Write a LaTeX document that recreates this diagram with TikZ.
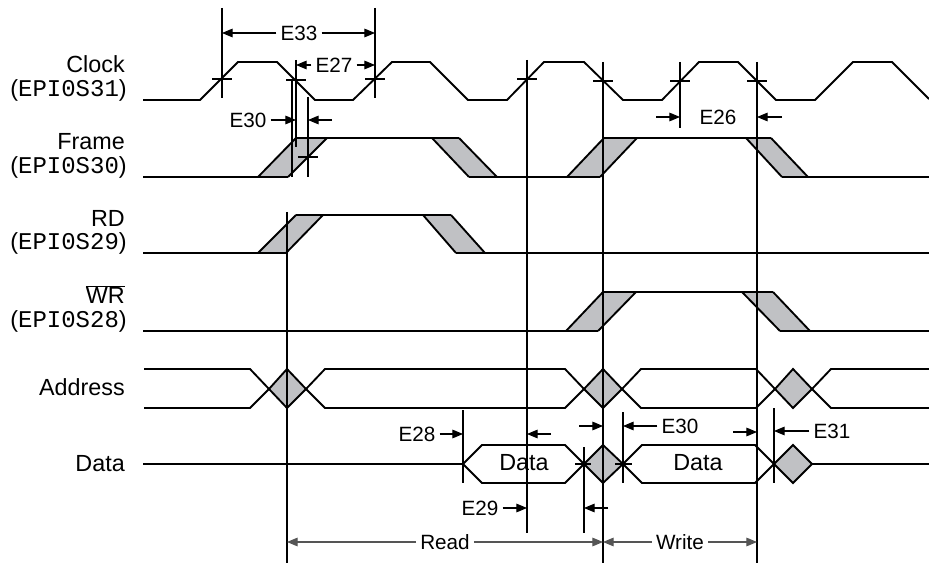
\documentclass[tikz,border=0pt]{standalone}
\usepackage{fontspec}
\setmainfont{Liberation Sans}
\newfontfamily\epimono{Liberation Mono}
\usetikzlibrary{arrows.meta}
\definecolor{shade}{RGB}{192,193,196}
\definecolor{dimline}{RGB}{85,85,85}
\newcommand\epipin[1]{{\epimono\fontsize{18}{20}\selectfont #1}}
\begin{document}
\begin{tikzpicture}[x=0.75pt,y=-0.75pt,
  wave/.style={line width=1.4pt, line join=miter},
  tline/.style={line width=0.8pt},
  dim/.style={line width=0.8pt, -{Triangle[length=8pt,width=6.5pt]}},
  trans/.style={fill=shade, draw=none},
  sig/.style={font=\fontsize{17.5}{19}\selectfont, inner sep=0pt, anchor=base east},
  elbl/.style={font=\fontsize{15.5}{17}\selectfont, inner xsep=3pt, inner ysep=0pt},
  dlbl/.style={font=\fontsize{17.5}{19}\selectfont, inner sep=0pt},
]
\useasboundingbox (0,0) rectangle (929,563);

% ---------- labels ----------
\node[sig] (clk)  at (125,73)  {Clock};
\node[sig] (clkp) at (127,97)  {(\epipin{EPI0S31})};
\node[sig] (frm)  at (125,150) {Frame};
\node[sig] (frmp) at (127,174) {(\epipin{EPI0S30})};
\node[sig] (rd)   at (125,227) {RD};
\node[sig] (rdp)  at (127,250) {(\epipin{EPI0S29})};
\node[sig] (wr)   at (125,304) {$\overline{\hbox{WR}}$};
\node[sig] (wrp)  at (127,328) {(\epipin{EPI0S28})};
\node[sig] (addr) at (125,395) {Address};
\node[sig] (dat)  at (125,471) {Data};

% ---------- shaded transitions ----------
\fill[trans] (258,177)--(296,138)--(327,138)--(288,177)--cycle;
\fill[trans] (432,138)--(459,138)--(497,177)--(469,177)--cycle;
\fill[trans] (567,177)--(604,138)--(637,138)--(600,177)--cycle;
\fill[trans] (746,138)--(771,138)--(808,177)--(782,177)--cycle;
\fill[trans] (258,253)--(296,215)--(323,215)--(286,253)--cycle;
\fill[trans] (423,215)--(451,215)--(485,253)--(456,253)--cycle;
\fill[trans] (566,331)--(603,292)--(636,292)--(598,331)--cycle;
\fill[trans] (742,292)--(773,292)--(810,331)--(780,331)--cycle;

% ---------- Clock ----------
\draw[wave] (143,100)--(200,100)--(238,62)--(277,62)--(315,100)--(353,100)--(392,62)--(430,62)--(468,100)--(507,100)--(544,62)--(584,62)--(623,100)--(662,100)--(699,62)--(738,62)--(776,100)--(815,100)--(853,62)--(892,62)--(929,99);

% ---------- Frame ----------
\draw[wave] (143,177)--(288,177);
\draw[wave] (258,177)--(296,138);
\draw[wave] (288,177)--(327,138);
\draw[wave] (296,138)--(459,138);
\draw[wave] (432,138)--(469,177);
\draw[wave] (459,138)--(497,177);
\draw[wave] (469,177)--(600,177);
\draw[wave] (567,177)--(604,138);
\draw[wave] (600,177)--(637,138);
\draw[wave] (604,138)--(771,138);
\draw[wave] (746,138)--(782,177);
\draw[wave] (771,138)--(808,177);
\draw[wave] (782,177)--(929,177);

% ---------- RD ----------
\draw[wave] (143,253)--(286,253);
\draw[wave] (258,253)--(296,215);
\draw[wave] (286,253)--(323,215);
\draw[wave] (296,215)--(451,215);
\draw[wave] (423,215)--(456,253);
\draw[wave] (451,215)--(485,253);
\draw[wave] (456,253)--(929,253);

% ---------- WR ----------
\draw[wave] (143,331)--(598,331);
\draw[wave] (566,331)--(603,292);
\draw[wave] (598,331)--(636,292);
\draw[wave] (603,292)--(773,292);
\draw[wave] (742,292)--(780,331);
\draw[wave] (773,292)--(810,331);
\draw[wave] (780,331)--(929,331);

% ---------- Address ----------
\filldraw[wave, fill=shade] (269,389)--(287,369)--(306,389)--(287,408)--cycle;
\filldraw[wave, fill=shade] (584,389)--(603,369)--(622,389)--(603,408)--cycle;
\filldraw[wave, fill=shade] (775,389)--(793,369)--(812,389)--(793,408)--cycle;
\draw[wave] (144,369)--(250,369)--(269,389)--(250,408)--(144,408);
\draw[wave] (306,389)--(325,369)--(565,369)--(584,389)--(565,408)--(325,408)--cycle;
\draw[wave] (622,389)--(641,369)--(756,369)--(775,389)--(756,408)--(641,408)--cycle;
\draw[wave] (929,369)--(831,369)--(812,389)--(831,408)--(929,408);

% ---------- Data ----------
\filldraw[wave, fill=shade] (584,464)--(603,445)--(623,464)--(603,483)--cycle;
\filldraw[wave, fill=shade] (774,464)--(793,445)--(812,464)--(793,483)--cycle;
\draw[wave] (143,464)--(463,464);
\draw[wave] (463,464)--(482,445)--(565,445)--(584,464)--(565,483)--(482,483)--cycle;
\draw[wave] (623,464)--(642,445)--(755,445)--(774,464)--(755,483)--(642,483)--cycle;
\draw[wave] (812,464)--(929,464);
\node[dlbl] (d1) at (524,463) {Data};
\node[dlbl] (d2) at (698,463) {Data};

% ---------- timing reference lines ----------
\draw[tline] (222,8)--(222,98);
\draw[tline] (375,8)--(375,98);
\draw[tline] (296,60)--(296,147);
\draw[tline] (292,80)--(292,177);
\draw[tline] (308,97)--(308,177);
\draw[tline] (527,60)--(527,533);
\draw[tline] (603,62)--(603,563);
\draw[tline] (680,62)--(680,128);
\draw[tline] (757,62)--(757,563);
\draw[tline] (287,212)--(287,563);
\draw[tline] (463,410)--(463,483);
\draw[tline] (584,447)--(584,533);
\draw[tline] (623,412)--(623,483);
\draw[tline] (774,408)--(774,483);
% crossing ticks
\draw[tline] (212,79)--(232,79);
\draw[tline] (286,80)--(306,80);
\draw[tline] (365,79)--(385,79);
\draw[tline] (517,79)--(537,79);
\draw[tline] (593,81)--(613,81);
\draw[tline] (670,81)--(690,81);
\draw[tline] (747,81)--(767,81);
\draw[tline] (298,157)--(318,157);
\draw[tline] (575,464)--(591,464);
\draw[tline] (615,464)--(632,464);

% ---------- dimension arrows ----------
\node[elbl] (e33) at (299,33) {E33};
\draw[dim] (e33.west) -- (222,33);
\draw[dim] (e33.east) -- (375,33);

\node[elbl] (e27) at (334,65) {E27};
\draw[dim] (e27.west) -- (296,65);
\draw[dim] (e27.east) -- (375,65);

\node[elbl] (e30a) at (248,120) {E30};
\draw[dim] (e30a.east) -- (296,120);
\coordinate (e30aR) at (332,120);
\draw[dim] (e30aR) -- (308,120);

\node[elbl] (e26) at (718,117) {E26};
\coordinate (e26L) at (656,117);
\coordinate (e26R) at (782,117);
\draw[dim] (e26L) -- (680,117);
\draw[dim] (e26R) -- (757,117);

\node[elbl] (e28) at (417,434) {E28};
\draw[dim] (e28.east) -- (463,434);
\coordinate (e28R) at (551,434);
\draw[dim] (e28R) -- (527,434);

\node[elbl] (e29) at (480,508) {E29};
\draw[dim] (e29.east) -- (527,508);
\coordinate (e29R) at (608,508);
\draw[dim] (e29R) -- (584,508);

\coordinate (e30bL) at (579,426);
\draw[dim] (e30bL) -- (603,426);
\node[elbl] (e30b) at (680,426) {E30};
\draw[dim] (e30b.west) -- (623,426);

\coordinate (e31L) at (733,432);
\draw[dim] (e31L) -- (757,432);
\node[elbl] (e31) at (832,431) {E31};
\draw[dim] (e31.west) -- (774,431);

\node[elbl] (read) at (445,542) {Read};
\draw[dim, dimline] (read.west) -- (287,542);
\draw[dim, dimline] (read.east) -- (603,542);
\node[elbl] (write) at (680,542) {Write};
\draw[dim, dimline] (write.west) -- (603,542);
\draw[dim, dimline] (write.east) -- (757,542);
\end{tikzpicture}
\end{document}
